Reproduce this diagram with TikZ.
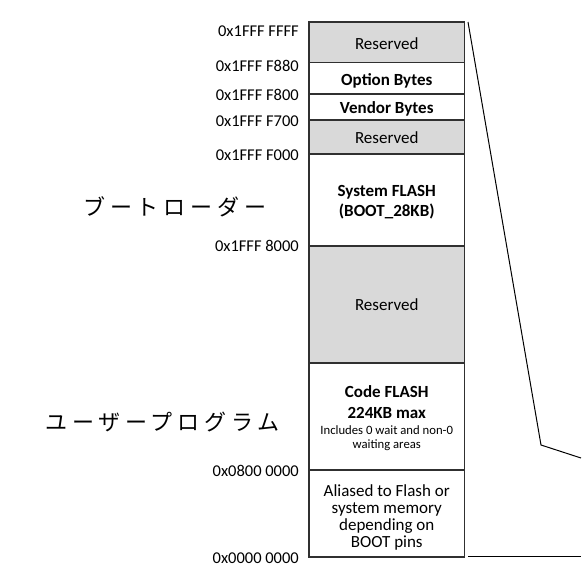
\documentclass[tikz,border=0pt]{standalone}
\usepackage{fontspec}
\setmainfont{Carlito}
\newfontfamily\jpfont[LetterSpace=22]{Noto Sans CJK JP}
\definecolor{resgray}{HTML}{D9D9D9}
\definecolor{edge}{HTML}{303030}
\begin{document}
\begin{tikzpicture}[x=1pt,y=-1pt,
  region/.style={draw=edge,line width=1.3pt,minimum width=155.5pt,inner sep=0pt},
  reserved/.style={region,fill=resgray},
  celltext/.style={inner sep=0pt,align=center,font=\fontsize{17}{17}\selectfont},
  boldtext/.style={inner sep=0pt,align=center,font=\fontsize{17}{19.5}\selectfont\bfseries},
  addr/.style={anchor=east,inner sep=0pt,font=\fontsize{16.5}{18}\selectfont},
  jplabel/.style={anchor=west,inner sep=0pt,font=\fontsize{22}{24}\jpfont},
  zoomline/.style={draw=black,line width=1pt}]
\useasboundingbox (0,0) rectangle (581,586);
% regions
\node[reserved,minimum height=40.5pt] (r1) at (386.75,42.25) {};
\node[region,minimum height=31.5pt] (opt) at (386.75,78.25) {};
\node[region,minimum height=26pt] (ven) at (386.75,107) {};
\node[reserved,minimum height=34pt] (r2) at (386.75,137) {};
\node[region,minimum height=92pt] (sys) at (386.75,200) {};
\node[reserved,minimum height=117pt] (r3) at (386.75,304.5) {};
\node[region,minimum height=107pt] (code) at (386.75,416.5) {};
\node[region,minimum height=87pt] (alias) at (386.75,513.5) {};
% texts in regions
\node[celltext,anchor=base] (t1) at (386.75,49) {Reserved};
\node[boldtext,anchor=base] (t2) at (386.75,85) {Option Bytes};
\node[boldtext,anchor=base] (t3) at (386.75,113) {Vendor Bytes};
\node[celltext,anchor=base] (t4) at (386.75,143) {Reserved};
\node[boldtext] (t5) at (386.75,202) {System FLASH\\(BOOT\_28KB)};
\node[celltext,anchor=base] (t6) at (386.75,310) {Reserved};
\node[boldtext,font=\fontsize{17}{21}\selectfont\bfseries] (t7) at (386.75,402.5) {Code FLASH\\224KB max};
\node[inner sep=0pt,align=center,font=\fontsize{12.7}{13.6}\selectfont] (t8) at (386.75,438) {Includes 0 wait and non-0\\waiting areas};
\node[celltext] (t9) at (386.75,517.5) {Aliased to Flash or\\system memory\\depending on\\BOOT pins};
% addresses
\node[addr] (a1) at (299,31) {0x1FFF FFFF};
\node[addr] (a2) at (299,66) {0x1FFF F880};
\node[addr] (a3) at (299,95) {0x1FFF F800};
\node[addr] (a4) at (299,121) {0x1FFF F700};
\node[addr] (a5) at (299,155) {0x1FFF F000};
\node[addr] (a6) at (299,246) {0x1FFF 8000};
\node[addr] (a7) at (299,471) {0x0800 0000};
\node[addr] (a8) at (299,558) {0x0000 0000};
% japanese labels
\node[jplabel] (boot) at (83,207) {ブートローダー};
\node[jplabel] (user) at (45,422) {ユーザープログラム};
% zoom lines
\coordinate (z1) at (468,22);
\coordinate (z2) at (541,445);
\coordinate (z3) at (581,458);
\coordinate (z4) at (468,556);
\coordinate (z5) at (581,556);
\draw[zoomline] (z1) -- (z2) -- (z3);
\draw[zoomline] (z4) -- (z5);
\end{tikzpicture}
\end{document}
